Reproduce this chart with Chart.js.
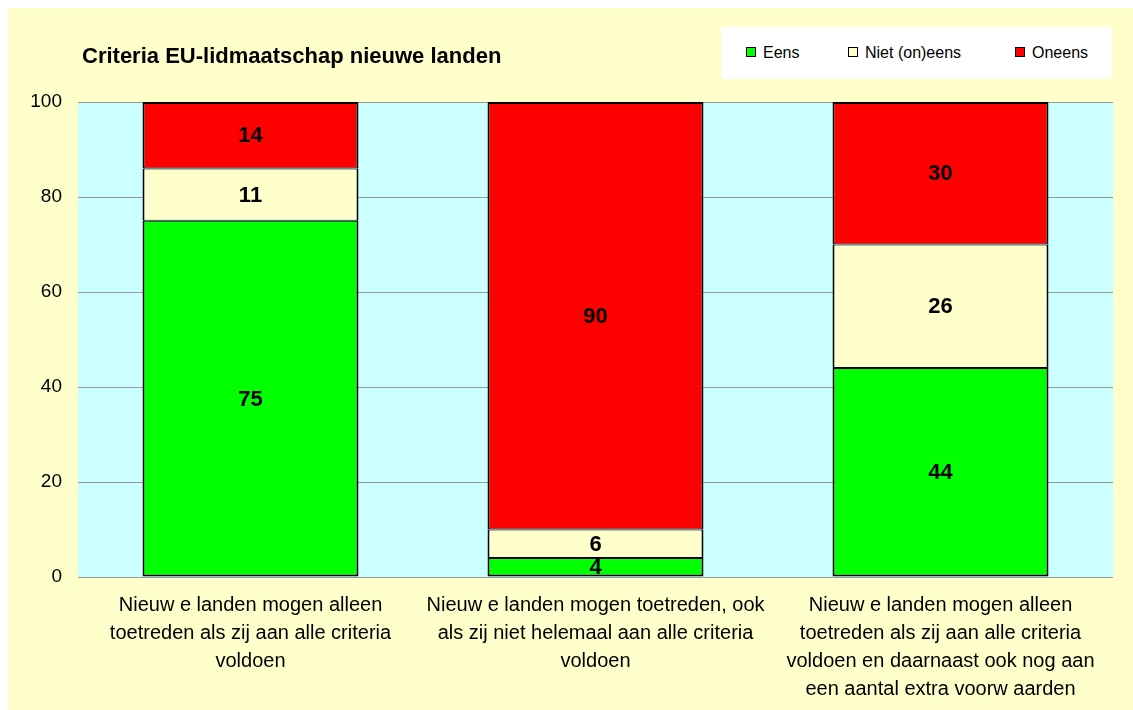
<!DOCTYPE html>
<html>
<head>
<meta charset="utf-8">
<script src="https://cdn.jsdelivr.net/npm/chart.js@4"></script>
<style>
  html, body { margin: 0; padding: 0; background: #ffffff; }
  #wrap { position: relative; width: 1133px; height: 710px; overflow: hidden; }
  #c { position: absolute; left: 0; top: 0; }
  #title { position: absolute; left: 82px; top: 43px; font: bold 22px "Liberation Sans", Arial, sans-serif; color: #000; white-space: nowrap; line-height: 26px; }
  #legend { position: absolute; left: 721px; top: 27px; width: 391px; height: 52px; background: #ffffff; font: 16px "Liberation Sans", Arial, sans-serif; color: #000; }
  .item { position: absolute; top: 0; height: 52px; line-height: 52px; white-space: nowrap; }
  .sw { position: absolute; top: 20px; width: 8px; height: 8px; border: 1px solid #000; }
  .lt { position: absolute; top: 0; }
</style>
</head>
<body>
<div id="wrap">
  <canvas id="c" width="1133" height="710"></canvas>
  <div id="title">Criteria EU-lidmaatschap nieuwe landen</div>
  <div id="legend"></div>
</div>
<script>
const categories = [
  ["Nieuw e landen mogen alleen", "toetreden als zij aan alle criteria", "voldoen"],
  ["Nieuw e landen mogen toetreden, ook", "als zij niet helemaal aan alle criteria", "voldoen"],
  ["Nieuw e landen mogen alleen", "toetreden als zij aan alle criteria", "voldoen en daarnaast ook nog aan", "een aantal extra voorw aarden"]
];
const seriesNames = ["Eens", "Niet (on)eens", "Oneens"];
const eens = [75, 4, 44];
const nietOneens = [11, 6, 26];
const oneens = [14, 90, 30];
const yTicks = [0, 20, 40, 60, 80, 100];

const colors = ["#00FF00", "#FFFFCC", "#FF0000"];
const seriesValues = [eens, nietOneens, oneens];
// border widths per stacked segment so shared edges are drawn once
const borders = [
  { left: 2, right: 2, top: 1, bottom: 2 },
  { left: 2, right: 2, top: 1, bottom: 1 },
  { left: 2, right: 2, top: 2, bottom: 1 }
];

// HTML legend
const legendEl = document.getElementById('legend');
const swatchX = [25, 127, 294];
seriesNames.forEach((name, i) => {
  const it = document.createElement('div');
  it.className = 'item';
  it.style.left = swatchX[i] + 'px';
  const sw = document.createElement('div');
  sw.className = 'sw';
  sw.style.left = '0px';
  sw.style.background = colors[i];
  const tx = document.createElement('span');
  tx.className = 'lt';
  tx.style.left = '17px';
  tx.textContent = name;
  it.appendChild(sw);
  it.appendChild(tx);
  legendEl.appendChild(it);
});

const bgPlugin = {
  id: 'bgPlugin',
  beforeDraw(chart) {
    const ctx = chart.ctx;
    const a = chart.chartArea;
    ctx.save();
    ctx.fillStyle = '#ffffff';
    ctx.fillRect(0, 0, chart.width, chart.height);
    ctx.fillStyle = '#FFFFCC';
    ctx.fillRect(8, 8, chart.width - 8, chart.height - 8);
    ctx.fillStyle = '#CCFFFF';
    ctx.fillRect(a.left, a.top, a.right - a.left, a.bottom - a.top);
    ctx.restore();
  }
};

const valueLabels = {
  id: 'valueLabels',
  afterDatasetsDraw(chart) {
    const ctx = chart.ctx;
    ctx.save();
    ctx.font = 'bold 22px "Liberation Sans", Arial, sans-serif';
    ctx.fillStyle = '#000';
    ctx.textAlign = 'center';
    ctx.textBaseline = 'middle';
    chart.data.datasets.forEach((ds, di) => {
      const meta = chart.getDatasetMeta(di);
      meta.data.forEach((el, i) => {
        const v = ds.data[i];
        const p = el.getProps(['x', 'y', 'base'], true);
        ctx.fillText(String(v), p.x, (p.y + p.base) / 2 + 1);
      });
    });
    ctx.restore();
  }
};

new Chart(document.getElementById('c'), {
  type: 'bar',
  data: {
    labels: categories,
    datasets: seriesNames.map((n, i) => ({
      label: n,
      data: seriesValues[i],
      backgroundColor: colors[i],
      borderColor: '#000000',
      borderWidth: borders[i],
      borderSkipped: false,
      barPercentage: 0.626,
      categoryPercentage: 1.0
    }))
  },
  options: {
    responsive: false,
    animation: false,
    devicePixelRatio: 1,
    layout: { padding: { left: 8, right: 20, top: 102, bottom: 0 } },
    plugins: {
      legend: { display: false },
      title: { display: false },
      tooltip: { enabled: false }
    },
    scales: {
      x: {
        stacked: true,
        grid: { display: false, drawTicks: false },
        border: { display: false },
        ticks: {
          color: '#000',
          padding: 14,
          maxRotation: 0,
          autoSkip: false,
          font: { family: '"Liberation Sans", Arial, sans-serif', size: 20, lineHeight: '28px' }
        },
        afterFit(scale) { scale.height = 133; }
      },
      y: {
        stacked: true,
        min: 0,
        max: 100,
        afterBuildTicks(scale) { scale.ticks = yTicks.map(v => ({ value: v })); },
        grid: { color: '#999999', lineWidth: 1, drawTicks: false },
        border: { display: false },
        ticks: {
          color: '#000',
          padding: 16,
          font: { family: '"Liberation Sans", Arial, sans-serif', size: 19 }
        },
        afterFit(scale) { scale.width = 70; }
      }
    }
  },
  plugins: [bgPlugin, valueLabels]
});
</script>
</body>
</html>
